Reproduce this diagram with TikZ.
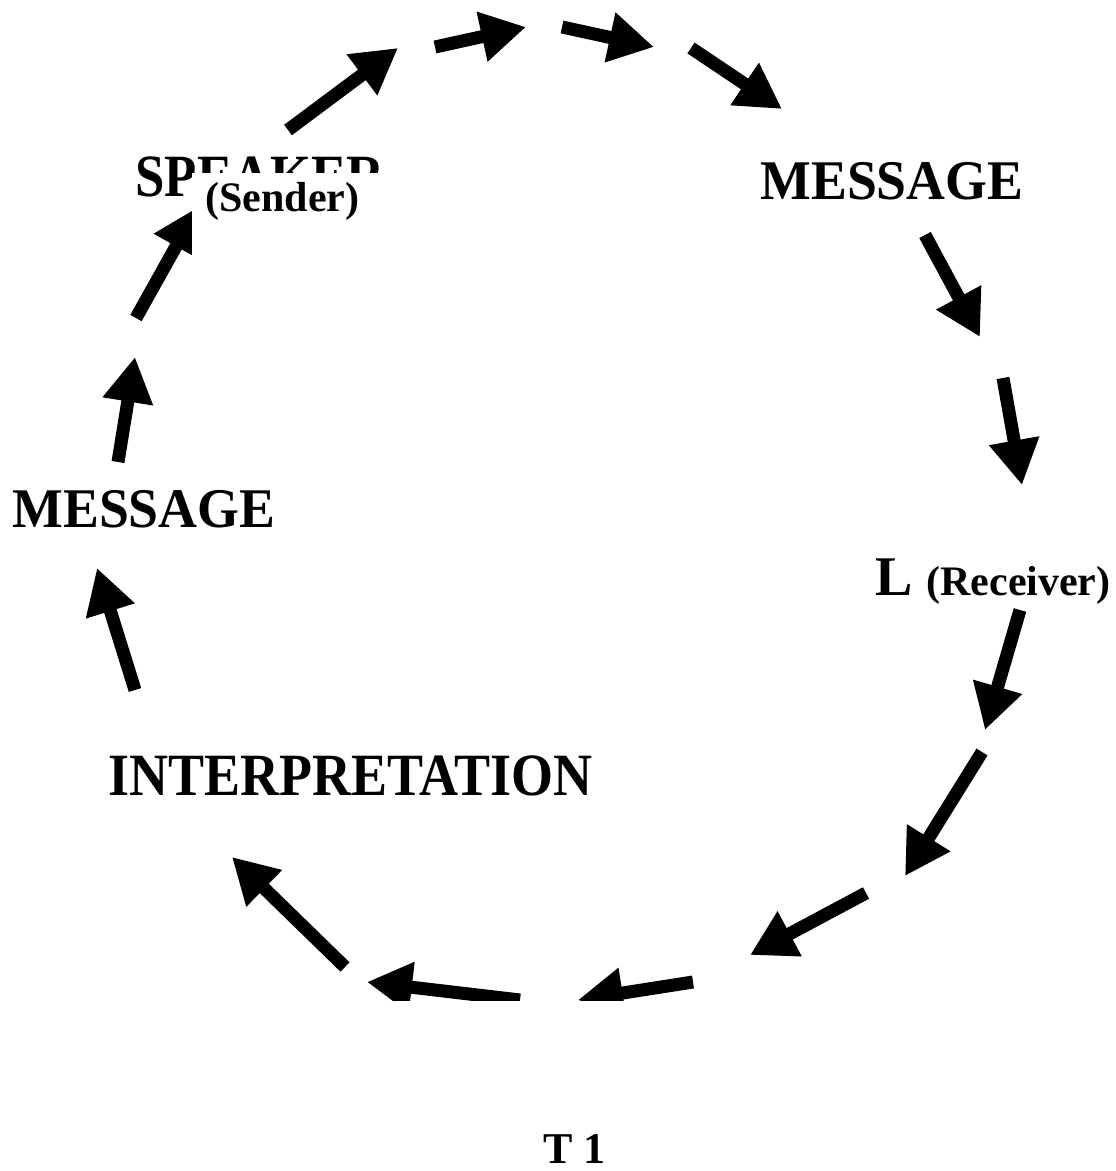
\documentclass[tikz,border=0pt]{standalone}
\usepackage{fontspec}
\setmainfont{Liberation Serif}
\usepackage{graphicx}
\usetikzlibrary{positioning,arrows.meta}
\tikzset{
  >={Triangle[length=22.5pt,width=24pt]},
  ring arrow/.style={->,line width=6.5pt},
  big label/.style={inner sep=0pt,font=\bfseries\fontsize{28}{28}\selectfont},
  huge label/.style={inner sep=0pt,font=\bfseries\fontsize{30}{30}\selectfont},
  small label/.style={fill=white,inner sep=0pt,font=\bfseries\fontsize{21}{21}\selectfont}
}
\newcommand{\squeeze}[2]{\scalebox{#1}[1]{#2}}

\begin{document}
\begin{tikzpicture}[x=0.5pt,y=-0.5pt]
\useasboundingbox (0,0) rectangle (1115,1171);
% the ring of arrows
\foreach \xa/\ya/\xb/\yb in {288/130/398/48, 435/47/526/27, 562/27/654/47,
    691/48/782/109, 925/235/980/337, 1003/378/1022/485,
    1020/610/985/730, 982/752/905/876, 866/893/750/955,
    693/982/578/1000, 520/1000/367/982, 345/967/232/857,
    135/690/97/568, 118/462/135/357, 136/318/198/207}
  \draw[ring arrow] (\xa,\ya) -- (\xb,\yb);
% labels
\node[huge label,anchor=base west] (speaker) at (135,197) {\squeeze{0.88}{SPEAKER}};
\node[small label,anchor=base west,text height=19.5pt,text depth=25pt] (sender) at (192,212) {\kern6.5pt(Sender)\kern18pt};
\node[big label,anchor=base west] (msgtop) at (760,200) {\squeeze{0.96}{MESSAGE}};
\node[big label,anchor=base west] (listener) at (875,595) {L};
\node[small label,anchor=base west,text height=24pt,text depth=5pt,inner xsep=3pt] (receiver) at (920,595) {(Receiver)\kern6pt};
\node[big label,anchor=base west] (msgleft) at (12,527) {\squeeze{0.96}{MESSAGE}};
\node[huge label,anchor=base west] (interp) at (108,795) {\squeeze{0.9}{INTERPRETATION}};
\node[small label,anchor=base west,text height=81pt,text depth=4pt,font=\bfseries\fontsize{22}{22}\selectfont] (tone) at (355,1163) {\kern94pt T 1\kern60pt};
\end{tikzpicture}
\end{document}
